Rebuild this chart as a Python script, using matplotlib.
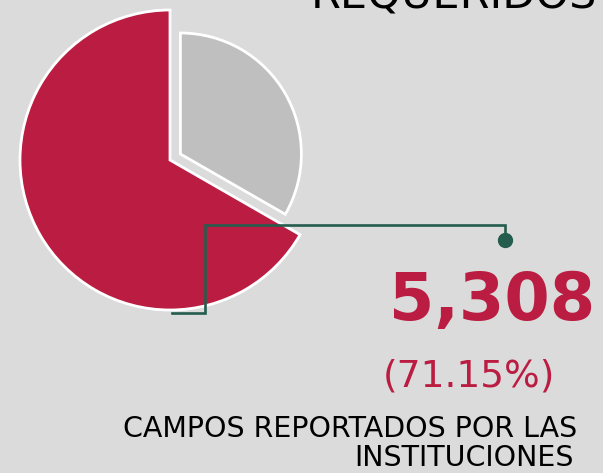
import matplotlib.pyplot as plt

# proporciones como se ven en el dibujo (rojo = reportados, gris = resto)
etiquetas = ["Reportados", "No reportados"]
proporciones = [66.7, 33.3]
colores = ["#bb1c41", "#bfbfbf"]

total_txt = "5,308"
pct_txt = "(71.15%)"
titulo = "REQUERIDOS"
desc1 = "CAMPOS REPORTADOS POR LAS"
desc2 = "INSTITUCIONES"

W, H = 603, 473
fondo = "#dbdbdb"
verde = "#245c4e"

fig = plt.figure(figsize=(W / 100, H / 100), dpi=100, facecolor=fondo)
ax = fig.add_axes([0, 0, 1, 1])
ax.set_facecolor(fondo)


def py(y):
    # pixel desde arriba -> coordenada de datos
    return H - y


wedges, _ = ax.pie(proporciones, colors=colores, startangle=90, counterclock=True,
                   radius=150, center=(170, py(160)), explode=[0, 12],
                   wedgeprops=dict(edgecolor="white", linewidth=2))
wedges[1].set_radius(121)

ax.set_xlim(0, W)
ax.set_ylim(0, H)
ax.set_aspect("equal")
ax.axis("off")

# conector
xs = [172, 205, 205, 505, 505]
ys = [313, 313, 225, 225, 240]
ax.plot(xs, [py(v) for v in ys], color=verde, lw=1.9, solid_joinstyle="miter")
ax.plot([505], [py(240)], "o", color=verde, ms=10)

ax.text(597, py(9), titulo, ha="right", va="baseline", fontsize=31, color="black")
ax.text(595, py(320), total_txt, ha="right", va="baseline", fontsize=47,
        fontweight="bold", color=colores[0])
ax.text(469, py(387), pct_txt, ha="center", va="baseline", fontsize=27,
        color=colores[0])
ax.text(577, py(437), desc1, ha="right", va="baseline", fontsize=20.5, color="black")
ax.text(574, py(466), desc2, ha="right", va="baseline", fontsize=20.5, color="black")

fig.savefig("out.png", dpi=100, facecolor=fondo)
